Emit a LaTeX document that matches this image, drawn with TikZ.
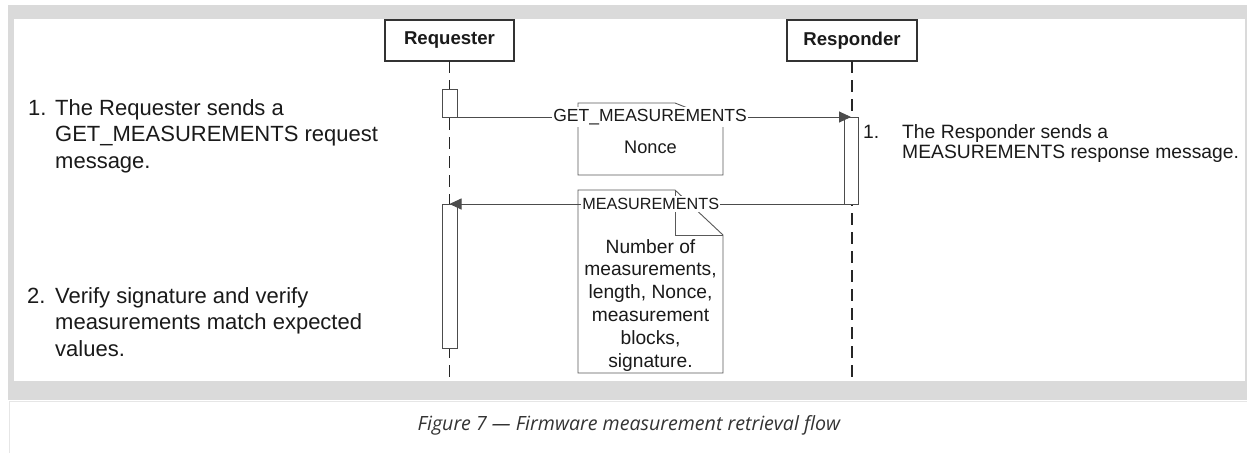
\documentclass[tikz,border=0pt]{standalone}
\usepackage{fontspec}
\setmainfont{Liberation Sans}
\newfontfamily\capfont{Open Sans}
\usetikzlibrary{arrows.meta}
\definecolor{framegrey}{HTML}{DADADA}
\definecolor{rulegrey}{HTML}{E6E6E6}
\definecolor{ink}{HTML}{1A1A1A}
\definecolor{capink}{HTML}{333333}
\tikzset{
  actor/.style={draw=black!80, line width=1.4pt, fill=white, inner sep=0pt, outer sep=0pt,
    font=\bfseries\fontsize{18.6}{20}\selectfont, text=ink},
  actbar/.style={draw=black!70, line width=0.9pt, fill=white, inner sep=0pt, outer sep=0pt},
  life/.style={draw=black!85, line width=1.6pt, dash pattern=on 12pt off 7pt},
  msg/.style={draw=black!70, line width=0.9pt, -{Triangle[length=12pt,width=11pt]}},
  msglabel/.style={fill=white, inner xsep=1pt, inner ysep=2pt, text=ink},
  noteline/.style={draw=black!65, line width=0.9pt},
  notetext/.style={align=center, text=ink, font=\fontsize{19.2}{22.8}\selectfont},
  sidetext/.style={text=ink, inner sep=0pt, anchor=base west}
}
\begin{document}
\begin{tikzpicture}[x=1pt,y=-1pt]
\useasboundingbox (0,0) rectangle (1247,453);
% frame around the diagram
\fill[framegrey] (8,5) rectangle (1247,400);
\fill[white] (14,19) rectangle (1245,381);
\draw[rulegrey, line width=1pt] (9,453) -- (9,401) -- (1247,401);

% participants
\node[actor, minimum width=129pt, minimum height=41pt] (req) at (449.5,40.5) {Requester};
\node[actor, minimum width=130pt, minimum height=41pt] (rsp) at (852,40.5) {Responder};
\coordinate (reqend) at (449.5,378);
\coordinate (rspend) at (852,378);
\draw[life] (req.south) -- (reqend);
\draw[life] (rsp.south) -- (rspend);

% activation bars
\node[actbar, minimum width=15pt, minimum height=28pt] (a1) at (449.5,103) {};
\node[actbar, minimum width=14pt, minimum height=87pt] (a2) at (851,160.5) {};
\node[actbar, minimum width=15pt, minimum height=144pt] (a3) at (449.5,276) {};

% notes attached to the messages
\draw[noteline] (578,103) -- (675,103) -- (723,122) -- (723,175) -- (578,175) -- cycle;
\node[notetext, anchor=base] (n1) at (650.5,153) {\fontsize{18.2}{20}\selectfont Nonce};
\draw[noteline] (578,190) -- (675,190) -- (723,235) -- (723,373) -- (578,373) -- cycle;
\draw[noteline] (675,190) -- (675,235) -- (723,235);
\node[notetext, anchor=base] (n2) at (650.5,367)
  {Number of\\measurements,\\length, Nonce,\\measurement\\blocks,\\signature.};

% messages
\draw[msg] (a1.south east) -- node[msglabel, pos=0.49, font=\fontsize{17.5}{19}\selectfont] (m1) {GET\_MEASUREMENTS} (a2.north);
\draw[msg] (a2.south west) -- node[msglabel, pos=0.49, font=\fontsize{16.2}{18}\selectfont] (m2) {MEASUREMENTS} (a3.north);

% step descriptions
\node[sidetext, font=\fontsize{22}{26.7}\selectfont] (s1) at (28,115)
  {\begin{tabular}[t]{@{}p{27pt}@{}l@{}}1.&The Requester sends a\\&GET\_MEASUREMENTS request\\&message.\end{tabular}};
\node[sidetext, font=\fontsize{22}{26.7}\selectfont] (s2) at (27,303)
  {\begin{tabular}[t]{@{}p{28pt}@{}l@{}}2.&Verify signature and verify\\&measurements match expected\\&values.\end{tabular}};
\node[sidetext, font=\fontsize{19.3}{20}\selectfont] (s3) at (863,138)
  {\begin{tabular}[t]{@{}p{39pt}@{}l@{}}1.&The Responder sends a\\&MEASUREMENTS response message.\end{tabular}};

% caption
\node[anchor=base, text=capink, inner sep=0pt, font=\capfont\itshape\fontsize{19.6}{22}\selectfont] (cap) at (629,430)
  {Figure 7 — Firmware measurement retrieval flow};
\end{tikzpicture}
\end{document}
